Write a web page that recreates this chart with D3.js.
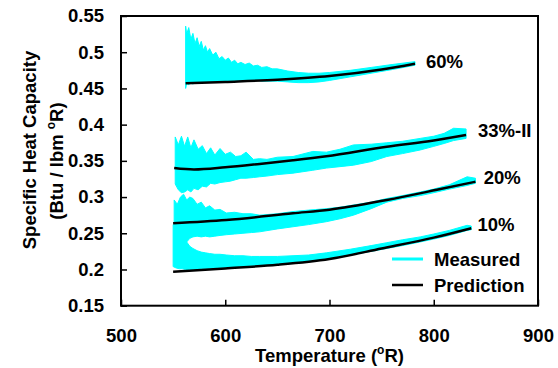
<!DOCTYPE html>
<html>
<head>
<meta charset="utf-8">
<script src="https://cdn.jsdelivr.net/npm/d3@7"></script>
<style>
  body { margin: 0; background: #fff; }
  svg text { font-family: "Liberation Sans", Arial, sans-serif; font-weight: bold; fill: #000; }
</style>
</head>
<body>
<svg width="558" height="368"></svg>
<script>
// measured bands: [T, low, high]
const meas60 = [
  [562,0.450,0.536],[563,0.457,0.525],[565,0.455,0.534],[567,0.458,0.518],[569,0.456,0.526],
  [571,0.458,0.512],[573,0.457,0.520],[575,0.458,0.508],[577,0.458,0.515],[579,0.459,0.503],
  [581,0.458,0.509],[583,0.459,0.500],[585,0.459,0.505],[588,0.459,0.496],[591,0.460,0.500],
  [594,0.459,0.491],[597,0.460,0.494],[600,0.460,0.489],[603,0.460,0.492],[606,0.460,0.486],
  [609,0.461,0.489],[612,0.460,0.484],[615,0.461,0.486],[619,0.461,0.483],[623,0.461,0.485],
  [627,0.460,0.481],[631,0.461,0.482],[635,0.460,0.479],[640,0.460,0.480],[645,0.460,0.477],
  [650,0.460,0.477],[660,0.459,0.474],[670,0.458,0.472],[680,0.458,0.471],[690,0.459,0.471],
  [700,0.461,0.472],[720,0.466,0.475],[740,0.471,0.479],[760,0.476,0.483],[782,0.482,0.487]
];
const meas33 = [
  [552,0.318,0.383],[555,0.310,0.372],[558,0.306,0.384],[561,0.307,0.370],[564,0.310,0.383],
  [567,0.307,0.368],[570,0.312,0.379],[574,0.310,0.366],[578,0.315,0.371],[582,0.314,0.360],
  [586,0.319,0.368],[590,0.318,0.358],[595,0.320,0.367],[600,0.321,0.359],[605,0.322,0.362],
  [610,0.324,0.356],[615,0.326,0.357],[620,0.326,0.362],[627,0.327,0.352],[633,0.328,0.353],
  [640,0.329,0.352],[650,0.331,0.355],[665,0.333,0.356],[684,0.337,0.363],[697,0.340,0.362],
  [710,0.342,0.366],[723,0.344,0.372],[740,0.349,0.373],[755,0.356,0.375],[770,0.360,0.377],
  [787,0.365,0.381],[800,0.370,0.384],[810,0.374,0.388],[819,0.378,0.395],[831,0.381,0.394]
];
const meas20 = [
  [551,0.210,0.296],[554,0.215,0.290],[557,0.222,0.300],[560,0.232,0.304],[563,0.238,0.296],
  [566,0.243,0.300],[569,0.245,0.298],[573,0.246,0.290],[577,0.245,0.293],[581,0.246,0.285],
  [585,0.245,0.288],[590,0.246,0.282],[595,0.247,0.283],[601,0.248,0.278],[609,0.249,0.279],
  [617,0.250,0.277],[625,0.251,0.277],[633,0.252,0.275],[650,0.256,0.277],[665,0.259,0.280],
  [680,0.262,0.282],[697,0.266,0.284],[710,0.270,0.286],[723,0.275,0.289],[740,0.284,0.293],
  [755,0.293,0.298],[770,0.298,0.302],[787,0.302,0.307],[800,0.306,0.311],[815,0.311,0.317],
  [832,0.316,0.328],[840,0.319,0.326]
];
const meas10 = [
  [550,0.204,0.262],[553,0.202,0.258],[556,0.201,0.262],[559,0.201,0.250],[562,0.200,0.240],
  [566,0.200,0.232],[569,0.200,0.229],[573,0.200,0.226],[577,0.201,0.224],[581,0.201,0.223],
  [585,0.201,0.222],[590,0.202,0.221],[595,0.202,0.221],[601,0.202,0.220],[609,0.203,0.219],
  [617,0.204,0.219],[625,0.205,0.218],[633,0.205,0.218],[650,0.207,0.218],[665,0.209,0.219],
  [680,0.211,0.220],[697,0.214,0.223],[720,0.220,0.228],[740,0.225,0.233],[755,0.229,0.237],
  [770,0.233,0.241],[787,0.238,0.245],[800,0.242,0.249],[815,0.247,0.254],[832,0.254,0.261],
  [836,0.255,0.260]
];

// prediction curves: [T, cp]
const pred60 = [[562,0.457],[600,0.459],[650,0.462],[700,0.467],[750,0.476],[782,0.484]];
const pred33 = [[551,0.340],[570,0.338],[600,0.341],[633,0.3457],[665,0.3507],[697,0.3563],[755,0.3696],[800,0.378],[831,0.3857]];
const pred20 = [[550,0.2638],[601,0.2683],[665,0.2776],[700,0.2825],[755,0.296],[803,0.310],[840,0.3212]];
const pred10 = [[550,0.197],[600,0.2015],[650,0.2065],[700,0.2145],[750,0.229],[800,0.244],[836,0.257]];

// curve labels: text, anchor temperature, anchor cp (baseline)
const labelText = ["60%", "33%-II", "20%", "10%"];
const labelT = [792.5, 842.5, 848, 842];
const labelCp = [0.4865, 0.3919, 0.327, 0.2618];

const xTicks = [500, 600, 700, 800, 900];
const yTicks = [0.15, 0.2, 0.25, 0.3, 0.35, 0.4, 0.45, 0.5, 0.55];

const svg = d3.select("svg");
const area = {left: 121, right: 538, top: 16, bottom: 305.7};
const fs = "18.5px";

const x = d3.scaleLinear().domain([500, 900]).range([area.left, area.right]);
const y = d3.scaleLinear().domain([0.15, 0.55]).range([area.bottom, area.top]);

// measured bands
const band = d3.area()
  .x(d => x(d[0]))
  .y0(d => y(d[1]))
  .y1(d => y(d[2]));

for (const m of [meas60, meas33, meas20, meas10]) {
  svg.append("path")
    .datum(m)
    .attr("d", band)
    .style("fill", "#00ffff")
    .style("stroke", "#00ffff")
    .style("stroke-width", 1);
}

// predictions
const line = d3.line()
  .x(d => x(d[0]))
  .y(d => y(d[1]))
  .curve(d3.curveMonotoneX);

for (const p of [pred60, pred33, pred20, pred10]) {
  svg.append("path")
    .datum(p)
    .attr("d", line)
    .style("fill", "none")
    .style("stroke", "#000")
    .style("stroke-width", 2.5);
}

// axes (ticks inside)
const axisX = d3.axisBottom(x).tickValues(xTicks).tickSizeInner(-6).tickSizeOuter(0).tickPadding(23.5);
const axisY = d3.axisLeft(y).tickValues(yTicks).tickSizeInner(-6).tickSizeOuter(0).tickPadding(17)
  .tickFormat(d => String(+d.toFixed(2)));

const gx = svg.append("g").attr("transform", `translate(0,${area.bottom})`).call(axisX);
const gy = svg.append("g").attr("transform", `translate(${area.left},0)`).call(axisY);
for (const g of [gx, gy]) {
  g.select(".domain").remove();
  g.selectAll("line").style("stroke", "#000").style("stroke-width", 1.5);
  g.selectAll("text").style("font-size", fs).style("font-family", "Liberation Sans, Arial, sans-serif")
    .style("font-weight", "bold");
}

// frame
svg.append("rect")
  .attr("x", area.left).attr("y", area.top)
  .attr("width", area.right - area.left).attr("height", area.bottom - area.top)
  .style("fill", "none").style("stroke", "#000").style("stroke-width", 2);

// curve labels
svg.selectAll(".clabel")
  .data(labelText)
  .enter()
  .append("text")
  .attr("x", (d, i) => x(labelT[i]))
  .attr("y", (d, i) => y(labelCp[i]) + 6)
  .style("font-size", fs)
  .text(d => d);

// legend
const legend = svg.append("g");
legend.append("line").attr("x1", 392).attr("x2", 423).attr("y1", 259).attr("y2", 259)
  .style("stroke", "#00ffff").style("stroke-width", 3);
legend.append("text").attr("x", 434).attr("y", 265.5).style("font-size", fs).text("Measured");
legend.append("line").attr("x1", 392).attr("x2", 423).attr("y1", 285).attr("y2", 285)
  .style("stroke", "#000").style("stroke-width", 2.5);
legend.append("text").attr("x", 434).attr("y", 291.5).style("font-size", fs).text("Prediction");

// axis titles
const xt = svg.append("text")
  .attr("x", (area.left + area.right) / 2).attr("y", 361.5)
  .attr("text-anchor", "middle").style("font-size", fs);
xt.append("tspan").text("Temperature (");
xt.append("tspan").attr("dy", -8).style("font-size", "12px").text("o");
xt.append("tspan").attr("dy", 8).text("R)");

svg.append("text")
  .attr("transform", "translate(36,150) rotate(-90)")
  .attr("text-anchor", "middle").style("font-size", fs)
  .text("Specific Heat Capacity");

const yt2 = svg.append("text")
  .attr("transform", "translate(63,161) rotate(-90)")
  .attr("text-anchor", "middle").style("font-size", fs);
yt2.append("tspan").text("(Btu / lbm ");
yt2.append("tspan").attr("dy", -8).style("font-size", "12px").text("o");
yt2.append("tspan").attr("dy", 8).text("R)");
</script>
</body>
</html>
